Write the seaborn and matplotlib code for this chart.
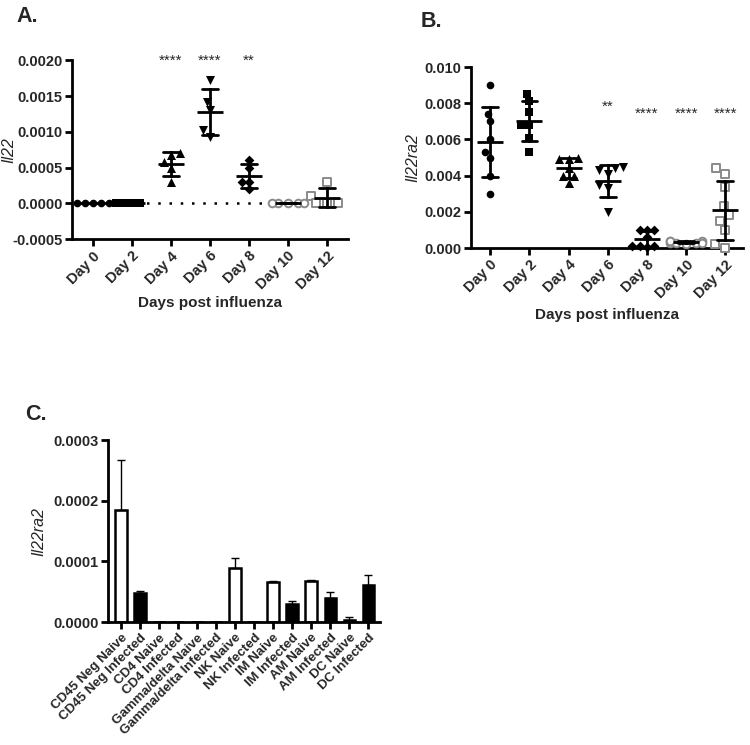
import numpy as np
import pandas as pd
import matplotlib
matplotlib.use("Agg")
import matplotlib.pyplot as plt
from matplotlib.ticker import FormatStrFormatter
import seaborn as sns

# ---------------- data ----------------
days = ["Day 0", "Day 2", "Day 4", "Day 6", "Day 8", "Day 10", "Day 12"]

# Panel A: Il22
a_day0 = [0, 0, 0, 0, 0]
a_day2 = [0, 0, 0, 0]
a_day4 = [0.00068, 0.00070, 0.00050, 0.00058, 0.00030]
a_day6 = [0.00172, 0.00142, 0.00130, 0.00102, 0.00093]
a_day8 = [0.00060, 0.00050, 0.00030, 0.00030, 0.00020]
a_day10 = [0, 0, 0, 0, 0]
a_day12 = [0.00030, 0.00010, 0, 0, 0]
a_stars = ["", "", "****", "****", "**", "", ""]
a_yticks = [-0.0005, 0.0, 0.0005, 0.0010, 0.0015, 0.0020]

# Panel B: Il22ra2
b_day0 = [0.0090, 0.0074, 0.0070, 0.0060, 0.0050, 0.0053, 0.0040, 0.0030]
b_day2 = [0.0085, 0.0081, 0.0075, 0.0068, 0.0068, 0.0061, 0.0053]
b_day4 = [0.0049, 0.0050, 0.0049, 0.0044, 0.0040, 0.0040, 0.0036]
b_day6 = [0.0045, 0.0044, 0.0043, 0.0041, 0.0035, 0.0033, 0.0020]
b_day8 = [0.0010, 0.0010, 0.0010, 0.0006, 0.0001, 0.0001, 0.0001, 0.00005]
b_day10 = [0.0004, 0.0004, 0.0003, 0.0003, 0.0003, 0.0003, 0.0002, 0.0004]
b_day12 = [0.0044, 0.0041, 0.0034, 0.0023, 0.0018, 0.0015, 0.0010, 0.0000, 0.0002]
b_stars = ["", "", "", "**", "****", "****", "****"]
b_star_y = [0, 0, 0, 0.0078, 0.0074, 0.0074, 0.0074]
b_yticks = [0.000, 0.002, 0.004, 0.006, 0.008, 0.010]

# Panel C: Il22ra2 by cell type
c_cells = ["CD45 Neg Naive", "CD45 Neg Infected", "CD4 Naive", "CD4 Infected",
           "Gamma/delta Naive", "Gamma/delta Infected", "NK Naive", "NK Infected",
           "IM Naive", "IM Infected", "AM Naive", "AM Infected", "DC Naive", "DC Infected"]
c_state = ["Naive", "Infected"] * 7
c_mean = [0.000185, 0.000048, 0, 0, 0, 0, 0.000090, 0,
          0.000066, 0.000030, 0.000067, 0.000040, 0.000004, 0.000061]
c_err = [0.000083, 0.000004, 0, 0, 0, 0, 0.000016, 0,
         0.000002, 0.000004, 0.000003, 0.000010, 0.000005, 0.000016]
c_yticks = [0.0, 0.0001, 0.0002, 0.0003]

# ---------------- style ----------------
sns.set_theme(style="ticks")
plt.rcParams["font.family"] = ["Liberation Sans", "DejaVu Sans"]
plt.rcParams["axes.unicode_minus"] = False

fig = plt.figure(figsize=(7.5, 7.45), dpi=100)

markers = ["o", "s", "^", "v", "D", "o", "s"]
opens = [False, False, False, False, False, True, True]
msize = [5.5, 5.5, 6.5, 6.5, 5, 5.5, 6]


def style_axes(ax, fs):
    for s in ["top", "right"]:
        ax.spines[s].set_visible(False)
    for s in ["left", "bottom"]:
        ax.spines[s].set_linewidth(2)
        ax.spines[s].set_color("black")
    ax.tick_params(axis="both", direction="out", length=5, width=2, color="black",
                   labelsize=fs, pad=2)
    for lab in ax.get_yticklabels() + ax.get_xticklabels():
        lab.set_fontweight("bold")


def dot_panel(ax, groups, stars, star_y, ylim, yticks, fmt, ylabel, xlim, ylab_x, xpad):
    df = pd.DataFrame({
        "day": np.repeat(days, [len(g) for g in groups]),
        "val": np.concatenate(groups),
    })
    for d, m, o, s in zip(days, markers, opens, msize):
        sub = df[df["day"] == d]
        sns.swarmplot(data=sub, x="day", y="val", order=days, ax=ax, marker=m, size=s,
                      color="white" if o else "black",
                      edgecolor="#8a8a8a" if o else "black",
                      linewidth=1.4 if o else 0, zorder=3, clip_on=False)
    sns.pointplot(data=df, x="day", y="val", order=days, ax=ax, estimator="mean",
                  errorbar="sd", color="black", linestyle="none", marker="_",
                  markersize=19, markeredgewidth=2, capsize=0.4,
                  err_kws={"linewidth": 2}, zorder=5)
    for i, (st, yy) in enumerate(zip(stars, star_y)):
        if st:
            ax.text(i, yy, st, ha="center", va="center", fontsize=11)
    ax.set_ylim(*ylim)
    ax.set_yticks(yticks)
    ax.yaxis.set_major_formatter(FormatStrFormatter(fmt))
    ax.set_xlim(*xlim)
    ax.set_xlabel("Days post influenza", fontsize=11, fontweight="bold", labelpad=xpad)
    ax.set_ylabel(ylabel, fontsize=11.5, fontstyle="italic")
    ax.yaxis.set_label_coords(ylab_x, 0.5)
    style_axes(ax, 10.5)
    for lab in ax.get_xticklabels():
        lab.set_rotation(45)
        lab.set_ha("right")
        lab.set_rotation_mode("anchor")


# Panel A
axA = fig.add_axes([0.096, 0.679, 0.368, 0.240])
dot_panel(axA, [a_day0, a_day2, a_day4, a_day6, a_day8, a_day10, a_day12],
          a_stars, [0.0020] * 7, (-0.0005, 0.0020), a_yticks, "%.4f", "Il22",
          (-0.54, 6.54), -0.20, 3)
axA.hlines(0, -0.35, 6.45, colors="black", linestyles=(0, (1, 3.5)), linewidth=1.8, zorder=1)

# Panel B
axB = fig.add_axes([0.628, 0.667, 0.363, 0.243])
dot_panel(axB, [b_day0, b_day2, b_day4, b_day6, b_day8, b_day10, b_day12],
          b_stars, b_star_y, (0.0, 0.010), b_yticks, "%.3f", "Il22ra2",
          (-0.49, 6.46), -0.185, 5)

# Panel C
axC = fig.add_axes([0.144, 0.165, 0.363, 0.244])
dfc = pd.DataFrame({"cell": c_cells, "state": c_state, "mean": c_mean, "err": c_err})
sns.barplot(data=dfc, x="cell", y="mean", hue="state", order=c_cells,
            palette={"Naive": "white", "Infected": "black"}, dodge=False,
            errorbar=None, width=0.6, edgecolor="black", linewidth=1.8,
            legend=False, ax=axC)
axC.errorbar(x=np.arange(len(c_cells)), y=dfc["mean"],
             yerr=[np.zeros(len(c_cells)), dfc["err"]], fmt="none",
             ecolor="black", elinewidth=1, capsize=3, capthick=1, zorder=4)
axC.set_ylim(0, 0.0003)
axC.set_yticks(c_yticks)
axC.yaxis.set_major_formatter(FormatStrFormatter("%.4f"))
axC.set_xlim(-0.68, 13.63)
axC.set_xlabel("")
axC.set_ylabel("Il22ra2", fontsize=11.5, fontstyle="italic")
axC.yaxis.set_label_coords(-0.225, 0.5)
style_axes(axC, 10.5)
axC.tick_params(axis="x", labelsize=9.5)
for lab in axC.get_xticklabels():
    lab.set_rotation(45)
    lab.set_ha("right")
    lab.set_rotation_mode("anchor")

# panel letters
fig.text(0.022, 0.992, "A.", fontsize=15.5, fontweight="bold", va="top")
fig.text(0.561, 0.985, "B.", fontsize=15.5, fontweight="bold", va="top")
fig.text(0.034, 0.458, "C.", fontsize=15.5, fontweight="bold", va="top")

fig.savefig("out.png", dpi=100)
